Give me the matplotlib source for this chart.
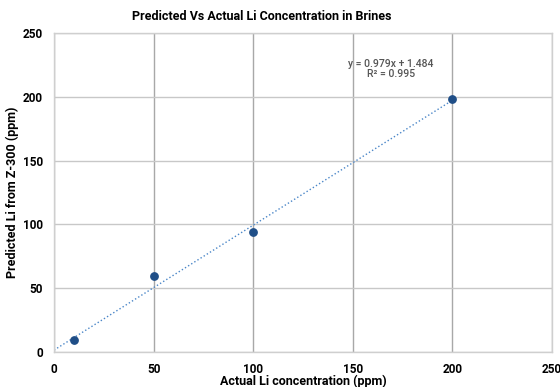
import matplotlib.pyplot as plt
import numpy as np

# measured vs predicted Li (ppm)
actual = [10, 50, 100, 200]
predicted = [9.4, 59.5, 94, 198.3]
slope = 0.979
intercept = 1.484
r_squared = 0.995
ticks = [0, 50, 100, 150, 200, 250]

plt.rcParams['font.family'] = ['Roboto', 'DejaVu Sans']

fig = plt.figure(figsize=(5.6, 3.87), dpi=100)
ax = fig.add_axes([0.0964, 0.0904, 0.8893, 0.8243])

ax.set_xlim(0, 250)
ax.set_ylim(0, 250)
ax.set_xticks(ticks)
ax.set_yticks(ticks)
ax.grid(True, axis='x', color='#a8a8a8', linewidth=1.0)
ax.grid(True, axis='y', color='#c8c8c8', linewidth=1.0)
ax.set_axisbelow(True)
for s in ax.spines.values():
    s.set_color('#cfcfcf')
    s.set_linewidth(1.0)
ax.tick_params(length=0, labelsize=8.5, pad=8)
for lab in ax.get_xticklabels() + ax.get_yticklabels():
    lab.set_fontweight('bold')

# linear trendline
xs = np.array([0, 200])
ax.plot(xs, slope * xs + intercept, linestyle=':', color='#4a86c8', linewidth=1.0)
ax.scatter(actual, predicted, s=28, color='#1f4e87', zorder=3)

ax.text(0.677, 0.887, f'y = {slope}x + {intercept}\nR² = {r_squared}',
        transform=ax.transAxes, ha='center', va='center', fontsize=7.5,
        color='#555555', linespacing=1.1, fontweight='medium')

fig.text(262 / 560, 1 - 17 / 387, 'Predicted Vs Actual Li Concentration in Brines',
         ha='center', va='center', fontsize=9, fontweight='bold')
ax.set_xlabel('Actual Li concentration (ppm)', fontsize=9, fontweight='bold', labelpad=-1)
ax.set_ylabel('Predicted Li from Z-300 (ppm)', fontsize=9, fontweight='bold', labelpad=3)

fig.savefig('out.png', dpi=100)
